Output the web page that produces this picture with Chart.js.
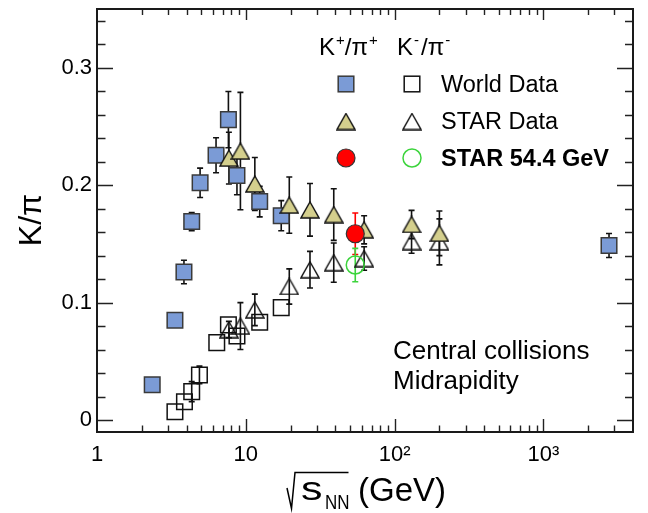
<!DOCTYPE html>
<html>
<head>
<meta charset="utf-8">
<script src="https://cdn.jsdelivr.net/npm/chart.js@4.4.1/dist/chart.umd.min.js"></script>
<style>
  html, body { margin: 0; padding: 0; background: #fff; }
  #chart { display: block; }
</style>
</head>
<body>
<canvas id="chart" width="648" height="513"></canvas>
<script>
// K+/pi+ world data (filled squares)
const worldPosEnergy = [2.35, 3.34, 3.84, 4.33, 4.93, 6.31, 7.64, 8.72, 12.4, 17.3, 2760];
const worldPosRatio  = [0.030, 0.085, 0.126, 0.169, 0.202, 0.2255, 0.2558, 0.2083, 0.186, 0.174, 0.1486];
const worldPosError  = [0, 0, 0.010, 0.0077, 0.0125, 0.0149, 0.024, 0.0165, 0.013, 0.0128, 0.0102];

// K-/pi- world data (open squares)
const worldNegEnergy = [3.34, 3.87, 4.33, 4.88, 6.38, 7.64, 8.72, 12.4, 17.3];
const worldNegRatio  = [0.0071, 0.0156, 0.0242, 0.0384, 0.0659, 0.081, 0.0716, 0.0833, 0.0957];
const worldNegError  = [0, 0, 0.0085, 0.0075, 0, 0, 0, 0, 0];

// STAR BES data
const starEnergy   = [7.7, 9.2, 11.5, 19.6, 27, 39, 62.4, 130, 200];
const starPosRatio = [0.223, 0.229, 0.201, 0.183, 0.179, 0.175, 0.162, 0.1665, 0.159];
const starPosError = [0.022, 0.050, 0.0225, 0.024, 0.0224, 0.022, 0.012, 0.012, 0.019];
const starNegRatio = [0.077, 0.080, 0.0938, 0.1137, 0.128, 0.134, 0.1375, 0.152, 0.1517];
const starNegError = [0.007, 0.020, 0.0134, 0.015, 0.0156, 0.0167, 0.010, 0.010, 0.0196];

// STAR 54.4 GeV
const star54Energy   = [54.4];
const star54PosRatio = [0.1586];
const star54PosError = [0.0177];
const star54NegRatio = [0.132];
const star54NegError = [0.0142];

// axes
const xMajorTicks = [1, 10, 100, 1000];
const xTickLabels = ['1', '10', '10\u00B2', '10\u00B3'];
const yMajorTicks = [0, 0.1, 0.2, 0.3];
const yTickLabels = ['0', '0.1', '0.2', '0.3'];

const FONT = '"Liberation Sans", Arial, Helvetica, sans-serif';
const BLUE = '#7b9bd6';
const KHAKI = '#d4cf8d';
const GREEN = '#3cd43c';

function points(xs, ys) {
    return xs.map((x, i) => ({ x: x, y: ys[i] }));
}

// triangle marker centred on its bounding box (ROOT style)
function triangleMarker(fill, stroke) {
    const c = document.createElement('canvas');
    c.width = 20; c.height = 18;
    const g = c.getContext('2d');
    g.beginPath();
    g.moveTo(10, 1);
    g.lineTo(19, 17);
    g.lineTo(1, 17);
    g.closePath();
    if (fill) { g.fillStyle = fill; g.fill(); }
    g.lineWidth = 1.4;
    g.strokeStyle = stroke;
    g.stroke();
    return c;
}
const triFilled = triangleMarker(KHAKI, '#111');
const triOpen = triangleMarker(null, '#111');

// error bars, drawn before the markers
const errorBars = {
    id: 'errorBars',
    beforeDatasetsDraw(chart) {
        const ctx = chart.ctx;
        const xs = chart.scales.x, ys = chart.scales.y;
        ctx.save();
        chart.data.datasets.forEach(ds => {
            if (!ds.errors) return;
            ctx.strokeStyle = ds.errorColor || '#111';
            ctx.lineWidth = 1.6;
            ds.data.forEach((p, i) => {
                const e = ds.errors[i];
                if (!e) return;
                const px = xs.getPixelForValue(p.x);
                const y1 = ys.getPixelForValue(p.y + e);
                const y2 = ys.getPixelForValue(p.y - e);
                ctx.beginPath();
                ctx.moveTo(px, y1); ctx.lineTo(px, y2);
                ctx.moveTo(px - 3, y1); ctx.lineTo(px + 3, y1);
                ctx.moveTo(px - 3, y2); ctx.lineTo(px + 3, y2);
                ctx.stroke();
            });
        });
        ctx.restore();
    }
};

function drawSup(ctx, x, y, base, sup, size) {
    ctx.font = size + 'px ' + FONT;
    ctx.fillText(base, x, y);
    x += ctx.measureText(base).width;
    ctx.font = Math.round(size * 0.62) + 'px ' + FONT;
    ctx.fillText(sup, x + 1, y - size * 0.42);
    return x + 1 + ctx.measureText(sup).width;
}

// frame, inward ticks, titles and legend
const decorations = {
    id: 'decorations',
    afterDraw(chart) {
        const ctx = chart.ctx;
        const a = chart.chartArea;
        const xs = chart.scales.x, ys = chart.scales.y;
        ctx.save();

        // x ticks (bottom and top)
        ctx.strokeStyle = '#222';
        ctx.lineWidth = 1.4;
        xMajorTicks.forEach(d => {
            for (let m = 1; m <= 9; m++) {
                const v = m * d;
                if (v <= xs.min || v >= xs.max) continue;
                const px = Math.round(xs.getPixelForValue(v)) + 0.5;
                const major = m === 1;
                ctx.beginPath();
                ctx.moveTo(px, a.bottom); ctx.lineTo(px, a.bottom - (major ? 13 : 6.5));
                ctx.moveTo(px, a.top); ctx.lineTo(px, a.top + (major ? 11 : 6));
                ctx.stroke();
            }
        });
        // y ticks (left and right)
        for (let k = 0; k <= 17; k++) {
            const v = k * 0.02;
            const py = Math.round(ys.getPixelForValue(v)) + 0.5;
            const major = k % 5 === 0;
            ctx.beginPath();
            ctx.moveTo(a.left, py); ctx.lineTo(a.left + (major ? 16 : 8.5), py);
            ctx.moveTo(a.right, py); ctx.lineTo(a.right - (major ? 16 : 8), py);
            ctx.stroke();
        }
        // frame
        ctx.lineWidth = 2;
        ctx.strokeStyle = '#1a1a1a';
        ctx.strokeRect(a.left, a.top, a.right - a.left, a.bottom - a.top);

        ctx.fillStyle = '#000';
        ctx.textBaseline = 'alphabetic';
        ctx.textAlign = 'left';

        // y title
        ctx.save();
        ctx.translate(41, 220);
        ctx.rotate(-Math.PI / 2);
        ctx.textAlign = 'center';
        ctx.font = '32px ' + FONT;
        ctx.fillText('K/\u03C0', 0, 0);
        ctx.restore();

        // x title: sqrt(s_NN) (GeV)
        ctx.lineWidth = 1.5;
        ctx.strokeStyle = '#000';
        ctx.beginPath();
        ctx.moveTo(287, 488);
        ctx.lineTo(291.5, 508.5);
        ctx.lineTo(295, 472.5);
        ctx.lineTo(348.5, 472.5);
        ctx.stroke();
        ctx.save();
        ctx.translate(301, 500);
        ctx.scale(1.3, 1);
        ctx.font = '33px ' + FONT;
        ctx.fillText('s', 0, 0);
        ctx.restore();
        ctx.save();
        ctx.translate(325, 508.5);
        ctx.scale(0.85, 1);
        ctx.font = '20px ' + FONT;
        ctx.fillText('NN', 0, 0);
        ctx.restore();
        ctx.font = '33px ' + FONT;
        ctx.fillText('(GeV)', 358, 501);

        // text box
        ctx.font = '26px ' + FONT;
        ctx.fillText('Central collisions', 393, 359);
        ctx.fillText('Midrapidity', 393, 389);

        // legend header
        let x = drawSup(ctx, 319, 55, 'K', '+', 24);
        x = drawSup(ctx, x, 55, '/\u03C0', '+', 24);
        x = drawSup(ctx, 397, 55, 'K', '-', 24);
        drawSup(ctx, x + 2, 55, '/\u03C0', '-', 24);

        // legend markers
        const rows = [84, 121.5, 158];
        const c1 = 346, c2 = 412;
        ctx.lineWidth = 1.5;
        ctx.fillStyle = BLUE; ctx.strokeStyle = '#3a3a3a';
        ctx.fillRect(c1 - 7.8, rows[0] - 7.8, 15.6, 15.6);
        ctx.strokeRect(c1 - 7.8, rows[0] - 7.8, 15.6, 15.6);
        ctx.strokeStyle = '#111';
        ctx.strokeRect(c2 - 7.8, rows[0] - 7.8, 15.6, 15.6);
        ctx.drawImage(triFilled, c1 - 10, rows[1] - 9);
        ctx.drawImage(triOpen, c2 - 10, rows[1] - 9);
        ctx.beginPath(); ctx.arc(c1, rows[2], 9, 0, Math.PI * 2);
        ctx.fillStyle = '#ff0000'; ctx.fill();
        ctx.strokeStyle = '#333'; ctx.lineWidth = 1.2; ctx.stroke();
        ctx.beginPath(); ctx.arc(c2, rows[2], 9, 0, Math.PI * 2);
        ctx.strokeStyle = GREEN; ctx.lineWidth = 1.5; ctx.stroke();

        ctx.fillStyle = '#000';
        ctx.font = '23.5px ' + FONT;
        ctx.fillText('World Data', 441, 92);
        ctx.fillText('STAR Data', 441, 129);
        ctx.font = 'bold 23.5px ' + FONT;
        ctx.fillText('STAR 54.4 GeV', 441, 166);

        ctx.restore();
    }
};

document.addEventListener('DOMContentLoaded', () => {
    const ctx = document.getElementById('chart').getContext('2d');
    new Chart(ctx, {
        type: 'scatter',
        data: {
            datasets: [
                {
                    label: 'K+/pi+ STAR 54.4 GeV',
                    data: points(star54Energy, star54PosRatio),
                    errors: star54PosError, errorColor: '#ff0000',
                    pointStyle: 'circle', pointRadius: 9,
                    backgroundColor: '#ff0000', borderColor: '#333', borderWidth: 1.2
                },
                {
                    label: 'K-/pi- STAR 54.4 GeV',
                    data: points(star54Energy, star54NegRatio),
                    errors: star54NegError, errorColor: GREEN,
                    pointStyle: 'circle', pointRadius: 9,
                    backgroundColor: 'rgba(0,0,0,0)', borderColor: GREEN, borderWidth: 1.5
                },
                {
                    label: 'K+/pi+ STAR Data',
                    data: points(starEnergy, starPosRatio),
                    errors: starPosError,
                    pointStyle: triFilled, pointRadius: 10
                },
                {
                    label: 'K-/pi- STAR Data',
                    data: points(starEnergy, starNegRatio),
                    errors: starNegError,
                    pointStyle: triOpen, pointRadius: 10
                },
                {
                    label: 'K+/pi+ World Data',
                    data: points(worldPosEnergy, worldPosRatio),
                    errors: worldPosError,
                    pointStyle: 'rect', pointRadius: 11,
                    backgroundColor: BLUE, borderColor: '#3a3a3a', borderWidth: 1.5
                },
                {
                    label: 'K-/pi- World Data',
                    data: points(worldNegEnergy, worldNegRatio),
                    errors: worldNegError,
                    pointStyle: 'rect', pointRadius: 11,
                    backgroundColor: 'rgba(0,0,0,0)', borderColor: '#111', borderWidth: 1.5
                }
            ]
        },
        options: {
            responsive: false,
            animation: false,
            layout: { autoPadding: false, padding: { left: 0, top: 9, right: 15, bottom: 0 } },
            plugins: {
                legend: { display: false },
                tooltip: { enabled: false }
            },
            scales: {
                x: {
                    type: 'logarithmic',
                    min: 1, max: 4000,
                    grid: { display: false, drawTicks: false },
                    border: { display: false },
                    afterBuildTicks: scale => { scale.ticks = xMajorTicks.map(v => ({ value: v })); },
                    afterFit: scale => {
                        scale.height = 81;
                        scale.paddingLeft = 0;
                        scale.paddingRight = 0;
                    },
                    ticks: {
                        autoSkip: false, maxRotation: 0, padding: 10,
                        color: '#000', font: { family: FONT, size: 22 },
                        callback: v => xTickLabels[xMajorTicks.indexOf(v)]
                    }
                },
                y: {
                    type: 'linear',
                    min: -0.0102, max: 0.35,
                    grid: { display: false, drawTicks: false },
                    border: { display: false },
                    afterBuildTicks: scale => { scale.ticks = yMajorTicks.map(v => ({ value: v })); },
                    afterFit: scale => {
                        scale.width = 97;
                        scale.paddingTop = 0;
                        scale.paddingBottom = 0;
                    },
                    ticks: {
                        autoSkip: false, padding: 5,
                        color: '#000', font: { family: FONT, size: 22 },
                        callback: v => yTickLabels[yMajorTicks.indexOf(v)]
                    }
                }
            }
        },
        plugins: [errorBars, decorations]
    });
});
</script>
</body>
</html>
